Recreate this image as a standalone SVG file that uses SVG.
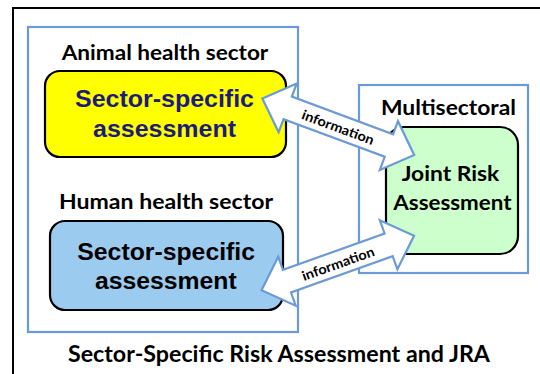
<svg xmlns="http://www.w3.org/2000/svg" width="540" height="374" viewBox="0 0 540 374">
  <style>
    .frame { fill: none; stroke: #000; stroke-width: 2; }
    .sector { fill: #fff; stroke: #6a9ad8; stroke-width: 2.2; }
    .box { stroke: #000; stroke-width: 2.2; }
    .label { font-family: Lato, "Open Sans", "Liberation Sans", sans-serif; font-weight: bold; fill: #000; }
    .inner { font-family: "Liberation Sans", Arial, sans-serif; font-weight: bold; font-size: 23px; }
    .arrow { fill: #fff; stroke: #6a9ad8; stroke-width: 2.2; stroke-linejoin: miter; }
    .info { font-family: Lato, "Open Sans", "Liberation Sans", sans-serif; font-weight: bold; font-size: 13.5px; fill: #000; }
  </style>
  <defs>
    <!-- double-headed block arrow centred on the origin, pointing along x -->
    <polygon id="dbl-arrow" points="-81,0 -54,-26 -54,-12 54,-12 54,-26 81,0 54,26 54,12 -54,12 -54,26"/>
  </defs>

  <rect width="540" height="374" fill="#fff"/>
  <!-- outer page frame (runs off the right and bottom edges) -->
  <rect class="frame" x="13" y="8" width="600" height="500"/>

  <g id="sector-panel">
    <rect class="sector" x="28" y="27" width="270" height="305"/>
  </g>

  <g id="multisectoral-panel">
    <rect class="sector" x="359" y="85" width="169" height="188"/>
    <text class="label" x="381" y="115" font-size="21" textLength="135" lengthAdjust="spacingAndGlyphs">Multisectoral</text>
  </g>

  <g id="animal-health">
    <text class="label" x="61.7" y="60" font-size="21" textLength="206.6" lengthAdjust="spacingAndGlyphs">Animal health sector</text>
    <rect class="box" x="45" y="71" width="241" height="86" rx="15" fill="#ffff00"/>
    <text class="inner" x="75" y="107" fill="#1b1b7d" textLength="179" lengthAdjust="spacingAndGlyphs">Sector-specific</text>
    <text class="inner" x="93" y="137" fill="#1b1b7d" textLength="143" lengthAdjust="spacingAndGlyphs">assessment</text>
  </g>

  <g id="human-health">
    <text class="label" x="59" y="209" font-size="21" textLength="214" lengthAdjust="spacingAndGlyphs">Human health sector</text>
    <rect class="box" x="50" y="221" width="233" height="89" rx="15" fill="#9bcbee"/>
    <text class="inner" x="77.3" y="260" fill="#000" textLength="177.7" lengthAdjust="spacingAndGlyphs">Sector-specific</text>
    <text class="inner" x="95" y="288.5" fill="#000" textLength="141.7" lengthAdjust="spacingAndGlyphs">assessment</text>
  </g>

  <g id="joint-risk-assessment">
    <rect class="box" x="386" y="127" width="132" height="127" rx="18" fill="#ccffcc"/>
    <text class="label" x="401.7" y="180.7" font-size="21" textLength="97.6" lengthAdjust="spacingAndGlyphs">Joint Risk</text>
    <text class="label" x="393.3" y="210" font-size="21" textLength="118.3" lengthAdjust="spacingAndGlyphs">Assessment</text>
  </g>

  <g id="connectors">
    <g transform="translate(338.3 126.7) rotate(20.4)">
      <use href="#dbl-arrow" class="arrow"/>
      <text class="info" x="0" y="0.5" text-anchor="middle" dominant-baseline="central" textLength="76" lengthAdjust="spacingAndGlyphs">information</text>
    </g>
    <g transform="translate(337.8 263) rotate(-19.7)">
      <use href="#dbl-arrow" class="arrow"/>
      <text class="info" x="0" y="0.5" text-anchor="middle" dominant-baseline="central" textLength="76" lengthAdjust="spacingAndGlyphs">information</text>
    </g>
  </g>

  <g id="caption">
    <text class="label" x="68" y="362" font-size="22" textLength="422" lengthAdjust="spacingAndGlyphs">Sector-Specific Risk Assessment and JRA</text>
  </g>
</svg>
